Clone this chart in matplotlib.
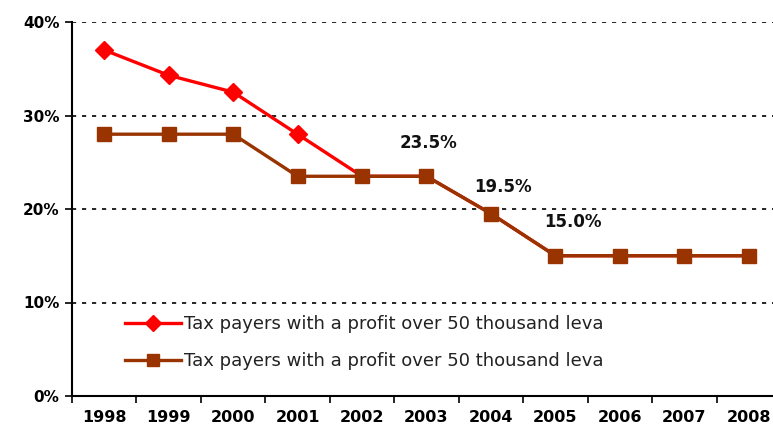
import matplotlib
matplotlib.use("Agg")
import matplotlib.pyplot as plt
import numpy as np

years = ["1998", "1999", "2000", "2001", "2002", "2003", "2004", "2005", "2006", "2007", "2008"]
rate_high = [37.0, 34.3, 32.5, 28.0, 23.5, 23.5, 19.5, 15.0, 15.0, 15.0, 15.0]
rate_low = [28.0, 28.0, 28.0, 23.5, 23.5, 23.5, 19.5, 15.0, 15.0, 15.0, 15.0]
legend_labels = [
    "Tax payers with a profit over 50 thousand leva",
    "Tax payers with a profit over 50 thousand leva",
]
# value labels: (year index, text, y position in %)
value_labels = [(5, "23.5%", 27.1), (6, "19.5%", 22.4), (7, "15.0%", 18.6)]
value_offsets = [0.03, 0.18, 0.27]

RED = "#FF0000"
BROWN = "#993300"

fig = plt.figure(figsize=(7.73, 4.30), dpi=100)
ax = fig.add_axes([72 / 773, 1 - 396 / 430, 1 - 72 / 773 + 8 / 773, (396 - 22) / 430])

x = np.arange(len(years))
# the red series sits under the brown one once they meet
ax.plot(x, rate_high, color=RED, linewidth=2.4, marker="D", markersize=9,
        markeredgecolor=RED, markevery=[0, 1, 2, 3], label=legend_labels[0], zorder=3)
ax.plot(x, rate_low, color=BROWN, linewidth=2.4, marker="s", markersize=10,
        markeredgecolor=BROWN, label=legend_labels[1], zorder=4)

for (idx, text, ypos), dx in zip(value_labels, value_offsets):
    ax.text(idx + dx, ypos, text, ha="center", va="center", fontsize=12,
            fontweight="bold", color="#111111")

ax.set_ylim(0, 40)
ax.set_xlim(-0.5, 10.5)
ax.set_yticks([0, 10, 20, 30, 40])
ax.set_yticklabels(["0%", "10%", "20%", "30%", "40%"], fontsize=11, fontweight="bold")
ax.set_xticks(x)
ax.set_xticklabels(years, fontsize=11.5, fontweight="bold")
ax.set_xticks(np.arange(-0.5, 11, 1), minor=True)
ax.tick_params(axis="x", which="major", length=0, pad=10)
ax.tick_params(axis="x", which="minor", length=5, width=1.2, direction="out")
ax.tick_params(axis="y", length=5, width=1.2, direction="out", pad=4)

for yv in [10, 20, 30, 40]:
    ax.axhline(yv, color="black", linestyle=(0, (2.5, 3.5)), linewidth=1.2, zorder=1)

ax.spines["top"].set_visible(False)
ax.spines["right"].set_visible(False)
ax.spines["left"].set_linewidth(1.5)
ax.spines["bottom"].set_linewidth(1.5)

leg = ax.legend(loc="upper left", bbox_to_anchor=(125 / 773, 1 - 315 / 430),
                bbox_transform=fig.transFigure, frameon=False, fontsize=13,
                handlelength=3.1, handletextpad=0.15, labelspacing=1.05,
                borderpad=0, borderaxespad=0)
for t in leg.get_texts():
    t.set_color("#222222")
for h in leg.legend_handles:
    h.set_markersize(8)

fig.savefig("out.png", dpi=100)
